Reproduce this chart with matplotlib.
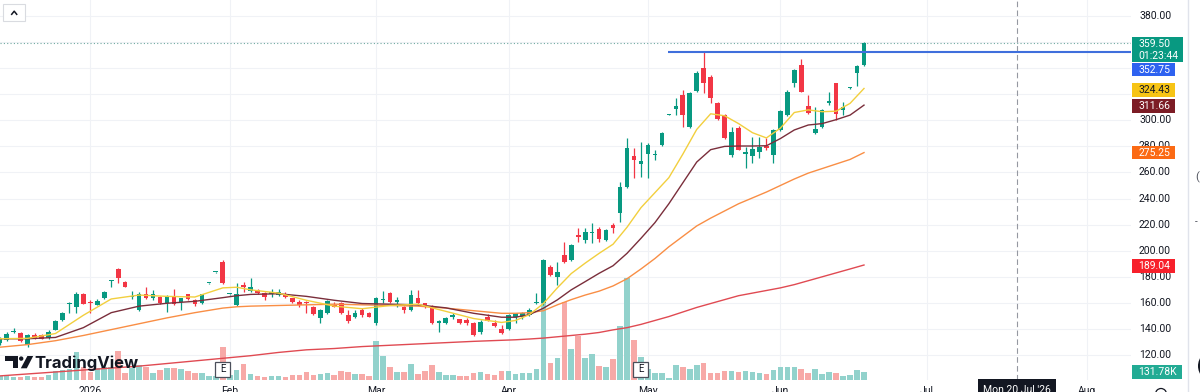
import matplotlib
matplotlib.use("Agg")
import matplotlib.pyplot as plt
import matplotlib.transforms as mtrans
from matplotlib.patches import Rectangle, Polygon, Ellipse
from matplotlib.lines import Line2D
import numpy as np

W, H = 1200, 392

# ---------------- data ----------------
opens = [129.5, 131.5, 137.5, 137, 128, 135.5, 135, 133, 139.5, 146.5,
         159.5, 157, 167, 161, 158.5, 163.5, 176.5, 186, 176, 164.5,
         154.5, 167, 163.5, 164.5, 160, 165, 160.5, 166.5, 162.5, 159.6,
         175, 183.5, 191.5, 166.5, 158, 174, 169, 170, 167.3, 167,
         166, 167, 163.5, 161, 160.9, 156.5, 148.2, 152, 158.4, 160,
         150.7, 149.5, 154.6, 152, 144.5, 162, 167.3, 161, 157, 154.6,
         163.5, 159.7, 157.6, 144.8, 144.3, 149.5, 147.4, 146.5, 144.4, 138,
         149.5, 144.4, 140, 140, 149.5, 148.8, 150.8, 159.6, 160, 187.3,
         180.1, 196.8, 192.9, 212.1, 208.3, 213.5, 217, 208.2, 219.7, 228.7,
         249.1, 272.6, 266.5, 274.2, 273.5, 281, 304, 308.4, 319.4, 295.1,
         322.7, 339.8, 333.4, 313.5, 304.1, 273.4, 294, 274.5, 272.6, 276,
         280.3, 273.4, 292.6, 304.1, 328.4, 342.4, 311, 290, 294.6, 313,
         328.4, 308, 324.5, 336, 342.8]
highs = [134, 137.9, 141, 138, 136, 137, 136, 139, 146.5, 153,
         160.5, 168.5, 167.5, 162, 163, 169, 177.5, 187, 177, 169,
         168, 172, 170, 165, 166, 171, 164, 167, 163, 167,
         175.5, 184, 193, 167, 175, 176, 179, 171, 168, 171,
         170.3, 168, 164, 162, 161.5, 157.5, 155, 162.5, 161, 161,
         154.6, 154.6, 155.8, 153, 164.3, 169.4, 168.6, 164.3, 157.5, 169.9,
         169.9, 160, 158.5, 147, 149, 152, 148, 148.2, 145, 147,
         151.5, 146.9, 143.1, 151.5, 152.6, 153, 156, 167.3, 193.7, 189.1,
         191.6, 207, 205, 217.2, 217.2, 221, 218, 216.5, 221, 252.9,
         286.2, 278.5, 283.6, 282.3, 277.2, 291, 304.5, 316.8, 323.2, 321.5,
         337.5, 352.6, 335, 314, 305, 294.6, 296, 279.8, 287.5, 287.5,
         286.2, 293, 308, 323, 339.5, 346.8, 319.4, 310.5, 308.5, 322,
         329, 314.3, 325.5, 342.5, 360]
lows = [128, 131, 137, 130, 126.5, 132, 132, 132.5, 139, 146,
        152, 152, 159, 152, 158, 163, 172.5, 175, 172, 163,
        154, 163, 162, 159.5, 153, 158, 154.5, 162, 157.5, 159,
        174.8, 183, 174.5, 166.3, 157.5, 168.5, 168.5, 166.5, 162.2, 164.7,
        165, 164, 160, 157, 152, 151, 144.3, 151.5, 157, 151.5,
        144.3, 148.2, 149.5, 149, 143, 159.7, 159.7, 157, 152, 154,
        158.4, 155.8, 144, 138, 143.5, 148, 144, 143.1, 134.5, 136.2,
        146, 141.8, 136.2, 139.5, 144.9, 148, 150, 159.3, 158.4, 180.7,
        173.8, 190.9, 192, 207, 206.2, 206.2, 207, 207.5, 213.8, 222.3,
        248, 255.5, 256.8, 255.5, 269.7, 280, 303.8, 304, 295.1, 294,
        322, 320.7, 313, 300, 285.5, 272.1, 277, 263.2, 267, 270.9,
        277.2, 267, 292, 303, 325.3, 321.5, 305, 289.5, 293.9, 311.8,
        300, 304.1, 324.3, 326.6, 342]
closes = [132.5, 136.5, 138, 130.5, 135, 133, 132.5, 138, 146, 152.5,
          160, 167, 159.5, 159.8, 161.5, 168.5, 177, 179, 172.5, 165.5,
          167, 164, 167, 160, 165, 159, 163.5, 163, 159.5, 166.8,
          175.3, 183.8, 175, 166.8, 167, 172.5, 172, 167.3, 164.7, 168.5,
          168.5, 164.5, 160.5, 158.5, 159.6, 151.5, 154.6, 161.7, 157.2, 152,
          146.4, 152, 150.7, 149.5, 163.5, 163, 161, 162, 154.6, 166,
          159.7, 158, 144.3, 146, 148.2, 150.5, 144.5, 144.4, 135, 145.6,
          146.4, 142.3, 136.7, 150.8, 152, 152, 154.6, 160.2, 192.9, 181.4,
          184, 191.6, 204.4, 210.8, 214.6, 214, 209, 215.9, 217.2, 249.1,
          278.5, 269.6, 269, 281.1, 274.4, 290, 304.3, 311, 304.1, 320.7,
          336.5, 328.3, 316.8, 300.7, 286.2, 291.3, 277.5, 275.5, 277.8, 279.8,
          278.5, 292.6, 307.4, 322, 338.6, 322, 305.9, 293.1, 307.9, 314.8,
          304.9, 310, 325.3, 341.7, 359.5]
volumes_k = [66, 66, 49, 49, 66, 49, 49, 82, 148, 165,
             181, 461, 214, 132, 198, 214, 214, 478, 115, 198,
             247, 214, 115, 165, 198, 198, 181, 148, 115, 115,
             66, 66, 544, 82, 165, 264, 99, 66, 49, 66,
             66, 49, 82, 82, 132, 82, 99, 115, 82, 148,
             132, 99, 99, 66, 642, 395, 214, 132, 132, 264,
             99, 148, 247, 132, 82, 82, 66, 66, 115, 132,
             99, 82, 148, 148, 99, 115, 115, 181, 1976, 280,
             362, 1285, 511, 725, 362, 428, 231, 214, 346, 889,
             1680, 659, 379, 181, 115, 115, 33, 247, 214, 181,
             247, 280, 115, 115, 148, 148, 132, 148, 132, 115,
             99, 165, 214, 214, 214, 181, 115, 181, 99, 132,
             115, 66, 82, 165, 131.78]

ma_idx = [0, 4, 8, 12, 16, 20, 24, 28, 32, 34, 36, 40, 44, 48, 52, 56, 60, 64,
          68, 72, 74, 76, 78, 80, 82, 84, 86, 88, 90, 92, 94, 96, 98, 100, 102,
          104, 106, 108, 110, 112, 114, 116, 118, 120, 122, 124]
ma_yellow = [132.5, 132.8, 136.5, 150.5, 163, 166, 165, 164.5, 171.5, 172, 170,
             167.5, 162, 157.5, 155.5, 158, 159, 153.5, 148, 145, 146.5, 151,
             159.5, 171.5, 182.5, 190.5, 198, 205, 218, 233, 244.5, 256, 274,
             293, 305, 303.5, 297.5, 290.5, 286.5, 294, 306, 308, 306.6, 307,
             313, 324.43]
ma_maroon = [132.5, 132.5, 133.5, 141, 152.5, 157.5, 159.7, 161.2, 164, 165.5,
             166.5, 167, 165, 162, 159.5, 159, 158.5, 156.2, 152, 149, 149, 151,
             155.9, 162.3, 170, 176.3, 182.7, 188.5, 198, 209.5, 221.5, 236, 252,
             268, 277.5, 280, 280.3, 280.3, 280.5, 286, 292.6, 296.4, 297.5,
             300.5, 304, 311.66]
ma_orange = [126, 128, 131, 135, 139.5, 144, 148.5, 152.5, 156, 157, 157.5, 158,
             158.5, 159, 158.5, 158, 157.5, 156, 154, 152, 152, 152.5, 154,
             158.5, 162.5, 166, 169, 173, 178.5, 186, 194, 203, 211, 219, 225,
             230.5, 236, 240.5, 245, 250, 255, 259.5, 263, 266.5, 270, 275.25]
ma_red = [104, 105.5, 107, 108.5, 110, 111.5, 113.5, 115.5, 117.5, 118.5, 119.5,
          122, 124, 125, 126.5, 127.5, 128.5, 129.5, 130.5, 131.3, 131.7, 132.3,
          133, 134, 135, 136, 137.3, 139.3, 141, 143.5, 146.5, 149.5, 153,
          156.5, 159.5, 162.5, 165.5, 167.5, 169.5, 171.5, 174, 177, 180, 183,
          186, 189.04]

month_pos = [13, 33, 54, 73, 93, 112, 133, 156]
month_labels = ["2026", "Feb", "Mar", "Apr", "May", "Jun", "Jul", "Aug"]
grid_ticks = [120, 140, 160, 180, 200, 220, 240, 260, 280, 300, 320, 340, 360, 380]
# labels that are not hidden under the coloured value boxes
label_ticks = [120, 140, 160, 180, 200, 220, 240, 260, 280, 300, 380]
last_price = 359.50
resistance = 352.75
resistance_start = 95.9
crosshair_pos = 145.9
earnings_pos = [32, 92]

assert len(opens) == len(highs) == len(lows) == len(closes) == len(volumes_k) == 125
assert len(ma_idx) == len(ma_yellow) == len(ma_maroon) == len(ma_orange) == len(ma_red)

# ---------------- styling ----------------
GREEN = "#089981"
RED = "#F23645"
VUP = "#92D2CC"
VDN = "#F7A9A7"
TXT = "#131722"
GRID = "#F0F2F6"
FONT = "Roboto"

fig = plt.figure(figsize=(W / 100, H / 100), dpi=100)
fig.patch.set_facecolor("white")

PLOT_W = 1131
rect = [0, 12 / H, PLOT_W / W, 380 / H]
ax_v = fig.add_axes(rect)
ax = fig.add_axes(rect)
ax.patch.set_visible(False)

# x scale: bar spacing 6.97 px, last bar at x=864 px
xmin = 124 - 864 / 6.97
xmax = 124 + (PLOT_W - 864) / 6.97
# y scale: 1.304 px per unit, 380 at y=16 px
ymin = 380 - 364 / 1.304
ymax = 380 + 16 / 1.304
vmax = 380 * 131.78 / 8.0

for a in (ax, ax_v):
    a.set_xlim(xmin, xmax)
    a.set_xticks([])
    a.set_yticks([])
    for s in a.spines.values():
        s.set_visible(False)
ax.set_ylim(ymin, ymax)
ax_v.set_ylim(0, vmax)

# grid (drawn under volume bars)
gtr = mtrans.blended_transform_factory(ax_v.transAxes, ax.transData)
for t in grid_ticks:
    ax_v.add_line(Line2D([0, 1], [t, t], transform=gtr, color=GRID, lw=0.8, zorder=0))
for p in month_pos:
    ax_v.axvline(p, color=GRID, lw=0.8, zorder=0)

x = np.arange(len(opens))
o = np.array(opens); c = np.array(closes)
hi = np.array(highs); lo = np.array(lows)
up = c >= o
cols = np.where(up, GREEN, RED)

# volume
ax_v.bar(x, volumes_k, width=0.8, color=np.where(up, VUP, VDN), linewidth=0, zorder=2)

# price line (dotted) and crosshair
ax.axhline(last_price, color="#6FA8A0", lw=0.8, ls=(0, (1, 2)), zorder=1)
ax.axvline(crosshair_pos, color="#9598A1", lw=0.8, ls=(0, (5, 3)), zorder=1)

# candles
ax.vlines(x, lo, hi, colors=cols, lw=0.9, zorder=3)
body_b = np.minimum(o, c)
body_h = np.maximum(np.abs(c - o), 0.7)
ax.bar(x, body_h, bottom=body_b, width=0.66, color=cols, linewidth=0, zorder=4)

# moving averages
ax.plot(ma_idx, ma_red, color="#E04A52", lw=1.0, zorder=5)
ax.plot(ma_idx, ma_orange, color="#F98E45", lw=1.0, zorder=5)
ax.plot(ma_idx, ma_maroon, color="#7A2E3B", lw=1.0, zorder=5)
ax.plot(ma_idx, ma_yellow, color="#F2CF3E", lw=1.0, zorder=5)

# resistance line
ax.hlines(resistance, resistance_start, xmax, color="#3F6FDC", lw=1.5, zorder=6)

# month labels (cut by the bottom edge, as in the screenshot)
ttr = mtrans.blended_transform_factory(ax.transData, ax.transAxes)
for p, lab in zip(month_pos, month_labels):
    ax.text(p, -5.5 / 380, lab, transform=ttr, ha="center", va="top",
            fontsize=7.5, color=TXT, family=FONT, clip_on=False)

# ---------------- price scale ----------------
ax_r = fig.add_axes([PLOT_W / W, 12 / H, 56 / W, 380 / H])
ax_r.set_xlim(0, 56)
ax_r.set_ylim(ymin, ymax)
ax_r.axis("off")
for t in label_ticks:
    ax_r.text(8, t, f"{t:.2f}", ha="left", va="center", fontsize=7.5,
              color=TXT, family=FONT, zorder=1)

BH = 13.5 / 1.304


def price_box(yc, color, label, tcol="white", width=42.5):
    ax_r.add_patch(Rectangle((1, yc - BH / 2), width, BH, facecolor=color,
                             edgecolor="none", zorder=3))
    ax_r.text(7.5, yc, label, ha="left", va="center", fontsize=7.5,
              color=tcol, family=FONT, zorder=4)


# current price box (two lines)
top_p = 380 - 20.7 / 1.304
bot_p = 380 - 46.3 / 1.304
ax_r.add_patch(Rectangle((1, bot_p), 51, top_p - bot_p, facecolor=GREEN,
                         edgecolor="none", zorder=3))
ax_r.text(7.5, 380 - 27.6 / 1.304, f"{last_price:.2f}", ha="left", va="center",
          fontsize=7.5, color="white", family=FONT, zorder=4)
ax_r.text(7.5, 380 - 40.2 / 1.304, "01:23:44", ha="left", va="center",
          fontsize=7.5, color="white", family=FONT, zorder=4)

price_box(380 - 53.7 / 1.304, "#2E62F0", f"{resistance:.2f}")
price_box(ma_yellow[-1] - 1.0, "#F7C415", f"{ma_yellow[-1]:.2f}", tcol=TXT)
price_box(ma_maroon[-1] - 0.6, "#7C1C25", f"{ma_maroon[-1]:.2f}")
price_box(ma_orange[-1], "#FB6A14", f"{ma_orange[-1]:.2f}")
price_box(ma_red[-1] - 0.6, "#F7202B", f"{ma_red[-1]:.2f}")

vtr = mtrans.blended_transform_factory(ax_r.transData, ax_v.transData)
vh = 13.3 * 131.78 / 8.0
ax_r.add_patch(Rectangle((1, volumes_k[-1] - vh / 2), 49.5, vh, transform=vtr,
                         facecolor="#22AB94", edgecolor="none", zorder=3))
ax_r.text(7.5, volumes_k[-1], f"{volumes_k[-1]:.2f}K", transform=vtr, ha="left",
          va="center", fontsize=7.5, color="white", family=FONT, zorder=4)


# ---------------- overlays in pixel coordinates ----------------
def P(px, py):
    return (px / W, 1 - py / H)


def prect(x0, y0, w, h, **kw):
    r = Rectangle(P(x0, y0 + h), w / W, h / H, transform=fig.transFigure, **kw)
    fig.add_artist(r)
    return r


def poly(pts, **kw):
    fig.add_artist(Polygon([P(a, b) for a, b in pts], closed=True,
                           transform=fig.transFigure, **kw))


# top-left collapse button
prect(3, 4.5, 22, 16, facecolor="white", edgecolor="#D9DBE0", lw=0.8, zorder=5)
fig.add_artist(Line2D([11.7 / W, 14.2 / W, 16.7 / W],
                      [1 - 14.3 / H, 1 - 11.2 / H, 1 - 14.3 / H],
                      transform=fig.transFigure, color=TXT, lw=1.1, zorder=6))

# earnings markers
for ep in earnings_pos:
    px = 864 + 6.97 * (ep - 124)
    prect(px - 7.5, 361.5, 15, 15, facecolor="white", edgecolor="#4B4F5A",
          lw=0.9, zorder=5)
    fig.text(px / W, 1 - 369.5 / H, "E", ha="center", va="center", fontsize=7,
             color=TXT, family=FONT, zorder=6)

# TradingView logo
poly([(5, 356), (18.3, 356), (18.3, 368.3), (12.6, 368.3), (12.6, 360.6), (5, 360.6)],
     facecolor=TXT, edgecolor="none", zorder=6)
fig.add_artist(Ellipse(P(21.2, 358.6), 4.4 / W, 4.4 / H, transform=fig.transFigure,
                       facecolor=TXT, edgecolor="none", zorder=6))
poly([(20.8, 368.3), (26.8, 368.3), (33.2, 356), (27.4, 356)],
     facecolor=TXT, edgecolor="none", zorder=6)
fig.text(34 / W, 1 - 368.3 / H, "TradingView", ha="left", va="baseline",
         fontsize=12, fontweight="bold", family="Inter", color=TXT, zorder=6)

# crosshair time label
prect(978, 379.3, 77.7, 20, facecolor=TXT, edgecolor="none", zorder=5)
fig.text(1016.7 / W, 1 - 385.3 / H, "Mon 20 Jul '26", ha="center", va="top",
         fontsize=7.5, color="white", family=FONT, zorder=6)

# settings icon (partly visible) at the bottom of the price scale
fig.add_artist(Ellipse(P(1161, 394), 11 / W, 11 / H, transform=fig.transFigure,
                       facecolor="none", edgecolor=TXT, lw=0.9, zorder=5))

# right side panel edge
fig.add_artist(Line2D([1187.5 / W, 1187.5 / W], [0, 1], transform=fig.transFigure,
                      color="#E0E3EB", lw=1.0, zorder=5))
fig.add_artist(Ellipse(P(1214, 366), 32 / W, 32 / H, transform=fig.transFigure,
                       facecolor=TXT, edgecolor="none", zorder=5))
fig.text(1195 / W, 1 - 177 / H, "(", ha="left", va="center", fontsize=8,
         color="#50535E", family=FONT, zorder=6)
fig.text(1195 / W, 1 - 222 / H, "-", ha="left", va="center", fontsize=7,
         color="#50535E", family=FONT, zorder=6)

fig.savefig("out.png", dpi=100, facecolor="white")
